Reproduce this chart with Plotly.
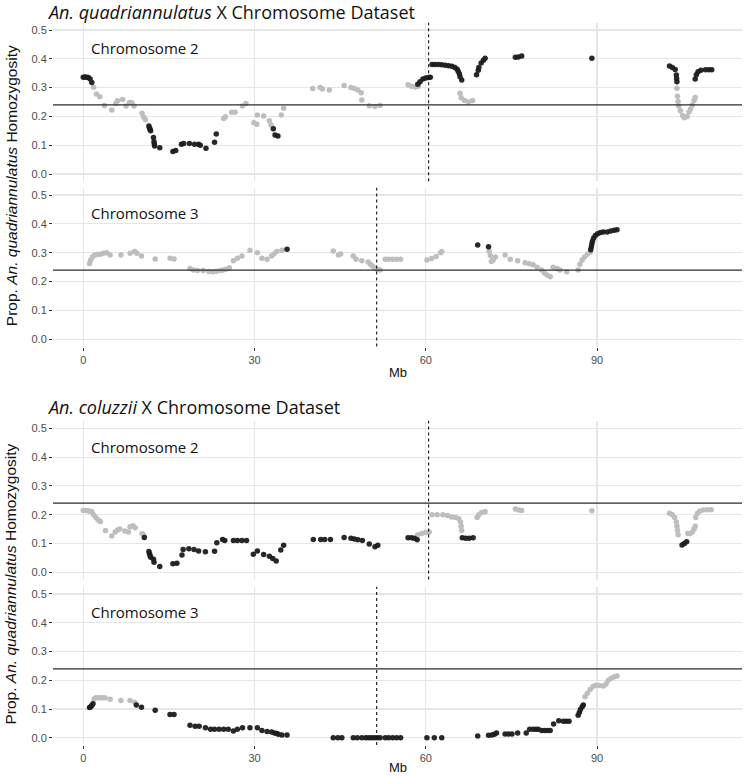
import plotly.graph_objects as go

W, H = 750, 776

# ---------------- data ----------------
THRESHOLD = 0.24
CENTROMERE_CHR2 = 60.5
CENTROMERE_CHR3 = 51.4

X_TICKS = [0, 30, 60, 90]
Y_TICKS = [0.0, 0.1, 0.2, 0.3, 0.4, 0.5]
Y_TICK_LABELS = ["0.0", "0.1", "0.2", "0.3", "0.4", "0.5"]

TITLE_QUAD = "<i>An. quadriannulatus</i> X Chromosome Dataset"
TITLE_COL = "<i>An. coluzzii</i> X Chromosome Dataset"
Y_TITLE = "Prop. <i>An. quadriannulatus</i> Homozygosity"
X_TITLE = "Mb"

# An. quadriannulatus dataset, chromosome 2
quad_chr2_black_mb = [0.0, 0.3, 0.6, 0.9, 1.2, 1.5,
                      11.5, 11.6, 11.7, 11.8, 12.3, 12.4, 12.45, 12.5, 13.4,
                      15.7, 16.2, 17.2, 17.6, 18.6, 19.5, 20.2, 20.5, 21.5, 23.0, 23.3,
                      33.3, 33.6, 34.1,
                      58.6, 59.0, 59.5, 60.0, 60.5, 60.8,
                      61.1, 61.6, 62.2, 62.8, 63.4, 64.0, 64.6, 65.1, 65.5, 65.7, 65.9, 66.0, 66.3,
                      68.9, 69.2, 69.3, 69.7, 70.1, 70.4,
                      75.7, 76.2, 76.8,
                      89.1,
                      102.7, 103.2, 103.7, 103.9, 103.95, 104.0,
                      107.2, 107.4, 107.7, 108.2, 109.0, 109.6, 110.1]
quad_chr2_black_val = [0.336, 0.337, 0.336, 0.335, 0.330, 0.318,
                       0.167, 0.160, 0.155, 0.150, 0.127, 0.112, 0.104, 0.097, 0.091,
                       0.078, 0.082, 0.103, 0.106, 0.106, 0.103, 0.103, 0.100, 0.089, 0.110, 0.139,
                       0.157, 0.135, 0.132,
                       0.312, 0.320, 0.330, 0.333, 0.335, 0.336,
                       0.380, 0.380, 0.380, 0.379, 0.378, 0.376, 0.374, 0.370, 0.364, 0.356, 0.347, 0.338, 0.326,
                       0.345, 0.360, 0.370, 0.385, 0.395, 0.402,
                       0.405, 0.406, 0.410,
                       0.402,
                       0.375, 0.370, 0.363, 0.344, 0.332, 0.320,
                       0.330, 0.345, 0.355, 0.360, 0.362, 0.362, 0.362]
quad_chr2_grey_mb = [1.8, 2.3, 2.9, 3.7, 5.0, 5.7, 6.0, 6.9, 7.5, 8.1, 8.5, 8.9, 10.3, 10.6, 10.9,
                     24.6, 24.9, 26.0, 26.6, 27.9, 28.5, 29.9, 30.4, 30.5, 31.6, 32.6, 32.9, 34.7, 35.1,
                     40.2, 41.5, 41.9, 43.1, 45.7, 46.9, 47.5, 48.1, 48.7, 48.8, 50.1, 51.1, 52.0,
                     56.9, 57.5, 58.2, 58.7,
                     66.0, 66.2, 66.8, 67.5, 68.2,
                     104.0, 104.1, 104.2, 104.3, 104.6, 105.0, 105.3, 105.8, 106.1, 106.4, 106.7, 107.0, 107.2]
quad_chr2_grey_val = [0.301, 0.278, 0.268, 0.238, 0.222, 0.245, 0.254, 0.259, 0.236, 0.248, 0.247, 0.236, 0.211, 0.197, 0.188,
                      0.193, 0.199, 0.214, 0.214, 0.236, 0.245, 0.178, 0.173, 0.205, 0.201, 0.185, 0.170, 0.205, 0.228,
                      0.297, 0.300, 0.295, 0.292, 0.307, 0.300, 0.297, 0.292, 0.282, 0.257, 0.237, 0.234, 0.238,
                      0.310, 0.305, 0.302, 0.305,
                      0.280, 0.265, 0.255, 0.250, 0.255,
                      0.298, 0.270, 0.252, 0.236, 0.220, 0.203, 0.195, 0.200, 0.215, 0.226, 0.240, 0.255, 0.266]

# An. quadriannulatus dataset, chromosome 3
quad_chr3_black_mb = [35.7, 69.1, 71.0,
                      88.9, 89.0, 89.1, 89.2, 89.4, 89.7, 90.1, 90.6, 91.1, 91.8, 92.4, 93.0, 93.5]
quad_chr3_black_val = [0.312, 0.327, 0.321,
                       0.310, 0.320, 0.330, 0.340, 0.350, 0.360, 0.366, 0.370, 0.372, 0.372, 0.375, 0.378, 0.380]
quad_chr3_grey_mb = [1.1, 1.3, 1.6, 2.0, 2.5, 3.0, 3.5, 4.1, 4.7, 6.6, 8.2, 9.0, 9.4, 10.2, 12.6, 15.2, 15.9,
                     18.7, 19.3, 20.0, 21.0, 22.0, 22.7, 23.3, 24.0, 24.5, 25.0, 25.6,
                     26.3, 27.0, 27.8, 29.2, 30.5, 31.3, 32.2, 33.0, 33.4, 33.9, 34.8,
                     43.8, 44.7, 45.1, 47.3, 47.8, 48.8, 49.9, 50.3, 50.7, 51.1, 51.5, 52.0,
                     52.9, 53.5, 54.2, 54.9, 55.6,
                     60.2, 61.0, 61.8, 62.6, 62.8,
                     71.1, 71.3, 71.5, 71.8, 72.2, 73.9, 74.8, 76.1, 77.4, 78.1, 78.8, 79.5,
                     80.3, 80.8, 81.3, 81.8, 82.3, 83.0, 83.5, 84.7,
                     86.7, 87.0, 87.4, 87.8, 88.3, 88.8]
quad_chr3_grey_val = [0.263, 0.275, 0.285, 0.292, 0.294, 0.295, 0.298, 0.300, 0.292, 0.292, 0.298, 0.304, 0.298, 0.289, 0.278, 0.281, 0.278,
                      0.245, 0.240, 0.238, 0.238, 0.235, 0.234, 0.236, 0.238, 0.240, 0.243, 0.248,
                      0.272, 0.281, 0.289, 0.309, 0.300, 0.281, 0.277, 0.289, 0.296, 0.304, 0.309,
                      0.306, 0.292, 0.296, 0.289, 0.277, 0.272, 0.268, 0.260, 0.253, 0.247, 0.243, 0.240,
                      0.277, 0.277, 0.277, 0.277, 0.277,
                      0.275, 0.280, 0.287, 0.300, 0.304,
                      0.305, 0.290, 0.270, 0.275, 0.285, 0.292, 0.277, 0.272, 0.265, 0.262, 0.258, 0.250,
                      0.240, 0.230, 0.222, 0.217, 0.250, 0.245, 0.240, 0.234,
                      0.240, 0.260, 0.275, 0.285, 0.295, 0.302]

# An. coluzzii dataset, chromosome 2
col_chr2_black_mb = [10.7, 11.5, 11.6, 11.7, 11.8, 12.3, 12.4, 13.4,
                     15.7, 16.4, 17.3, 17.5, 18.5, 19.4, 20.2, 21.4, 23.0, 23.4, 24.4, 24.8, 26.3, 27.0, 27.8, 28.6,
                     29.8, 30.5, 31.6, 32.6, 33.2, 33.8, 34.6, 35.1,
                     40.3, 41.6, 42.3, 43.3, 45.7, 46.9, 47.5, 48.1, 48.9, 50.1, 51.1, 51.6,
                     56.9, 57.5, 58.0, 58.5,
                     66.4, 67.0, 67.6, 68.3,
                     104.9, 105.3, 105.7]
col_chr2_black_val = [0.121, 0.072, 0.065, 0.058, 0.052, 0.045, 0.035, 0.020,
                      0.030, 0.031, 0.060, 0.079, 0.082, 0.079, 0.074, 0.071, 0.073, 0.103, 0.114, 0.110, 0.110, 0.110, 0.110, 0.110,
                      0.063, 0.074, 0.062, 0.056, 0.048, 0.039, 0.077, 0.094,
                      0.114, 0.114, 0.114, 0.114, 0.121, 0.118, 0.116, 0.113, 0.110, 0.098, 0.089, 0.094,
                      0.120, 0.120, 0.118, 0.113,
                      0.120, 0.118, 0.118, 0.120,
                      0.095, 0.100, 0.106]
col_chr2_grey_mb = [0.0, 0.4, 0.8, 1.2, 1.5, 1.8, 2.2, 2.6, 3.0, 3.9, 5.0, 5.6, 6.0, 6.4, 7.3, 7.9, 8.2, 8.7, 9.1, 10.3, 10.6,
                    58.6, 59.3, 60.0, 60.6,
                    61.1, 62.0, 63.0, 63.8, 64.5, 65.2, 65.8, 66.1, 66.2, 66.3,
                    69.0, 69.3, 69.8, 70.4,
                    75.7, 76.3, 76.8,
                    89.1,
                    102.7, 103.2, 103.6, 103.9, 104.0, 104.1, 104.2,
                    105.9, 106.3, 106.7, 107.0, 107.2,
                    107.3, 107.6, 108.0, 108.6, 109.3, 110.0]
col_chr2_grey_val = [0.215, 0.215, 0.214, 0.212, 0.210, 0.200, 0.190, 0.182, 0.176, 0.145, 0.126, 0.140, 0.147, 0.150, 0.143, 0.140, 0.158, 0.162, 0.155, 0.135, 0.129,
                     0.130, 0.135, 0.138, 0.140,
                     0.200, 0.200, 0.200, 0.197, 0.192, 0.190, 0.186, 0.175, 0.160, 0.145,
                     0.190, 0.200, 0.208, 0.210,
                     0.220, 0.216, 0.215,
                     0.214,
                     0.205, 0.200, 0.190, 0.175, 0.160, 0.145, 0.130,
                     0.135, 0.135, 0.140, 0.150, 0.160,
                     0.190, 0.205, 0.213, 0.216, 0.217, 0.217]

# An. coluzzii dataset, chromosome 3
col_chr3_black_mb = [1.1, 1.3, 1.5, 1.7, 9.3, 10.2, 12.6, 15.2, 15.9,
                     18.7, 19.6, 20.3, 21.4, 22.3, 23.0, 23.8, 24.6, 25.4, 26.3, 27.0, 27.9, 29.2, 30.5, 31.3, 32.2,
                     33.0, 33.5, 33.9, 34.2, 34.8, 35.7,
                     43.8, 44.6, 45.3, 47.3, 48.0, 48.8, 49.5, 50.0, 50.5, 51.0, 51.5, 52.0,
                     52.9, 53.5, 54.2, 54.9, 55.6,
                     60.2, 61.5, 62.8,
                     69.1, 71.0, 71.6, 72.0, 72.4, 73.9, 74.5, 75.1, 76.1, 77.6, 78.2, 78.8, 79.3, 79.7,
                     80.3, 80.8, 81.3, 81.8, 82.4, 83.3, 84.1, 84.6, 85.1,
                     86.7, 86.9, 87.1, 87.4, 87.6]
col_chr3_black_val = [0.105, 0.108, 0.112, 0.118, 0.114, 0.106, 0.096, 0.081, 0.081,
                      0.044, 0.040, 0.040, 0.035, 0.030, 0.030, 0.030, 0.030, 0.030, 0.024, 0.030, 0.035, 0.035, 0.035, 0.025, 0.022,
                      0.020, 0.017, 0.015, 0.012, 0.010, 0.010,
                      0.0, 0.0, 0.0, 0.0, 0.0, 0.0, 0.0, 0.0, 0.0, 0.0, 0.0, 0.0,
                      0.0, 0.0, 0.0, 0.0, 0.0,
                      0.0, 0.0, 0.0,
                      0.006, 0.009, 0.010, 0.012, 0.017, 0.013, 0.013, 0.013, 0.017, 0.017, 0.030, 0.030, 0.030, 0.030,
                      0.025, 0.025, 0.025, 0.025, 0.048, 0.059, 0.058, 0.058, 0.058,
                      0.078, 0.088, 0.098, 0.108, 0.114]
col_chr3_grey_mb = [1.9, 2.2, 2.6, 3.0, 3.4, 3.8, 4.7, 6.6, 8.2, 9.0,
                    87.9, 88.3, 88.8, 89.3, 89.8, 90.4, 91.1, 91.6, 92.0, 92.5, 93.0, 93.5]
col_chr3_grey_val = [0.135, 0.139, 0.139, 0.139, 0.139, 0.139, 0.134, 0.130, 0.130, 0.124,
                     0.143, 0.155, 0.168, 0.178, 0.183, 0.182, 0.180, 0.187, 0.200, 0.207, 0.212, 0.215]

# ---------------- figure ----------------
GREY = "#bebebe"
BLACK = "#1c1c1c"
GRID = "#e6e6e6"
TICK_TXT = "#4d4d4d"

def px_y(p):
    return 1 - p / H

# panel vertical pixel extents (top, bottom)
panels = [
    dict(top=22.8, bot=181.2, grey=(quad_chr2_grey_mb, quad_chr2_grey_val),
         black=(quad_chr2_black_mb, quad_chr2_black_val), label="Chromosome 2",
         cen=CENTROMERE_CHR2, xlabels=False),
    dict(top=187.8, bot=346.5, grey=(quad_chr3_grey_mb, quad_chr3_grey_val),
         black=(quad_chr3_black_mb, quad_chr3_black_val), label="Chromosome 3",
         cen=CENTROMERE_CHR3, xlabels=True),
    dict(top=421.1, bot=579.5, grey=(col_chr2_grey_mb, col_chr2_grey_val),
         black=(col_chr2_black_mb, col_chr2_black_val), label="Chromosome 2",
         cen=CENTROMERE_CHR2, xlabels=False),
    dict(top=586.8, bot=745.0, grey=(col_chr3_grey_mb, col_chr3_grey_val),
         black=(col_chr3_black_mb, col_chr3_black_val), label="Chromosome 3",
         cen=CENTROMERE_CHR3, xlabels=True),
]

XDOM = [53 / W, 742 / W]
XRANGE = [-5.3, 115.4]
YRANGE = [-0.025, 0.525]

fig = go.Figure()
layout = dict(
    width=W, height=H,
    margin=dict(l=0, r=0, t=0, b=0),
    paper_bgcolor="white", plot_bgcolor="white",
    showlegend=False, hovermode=False,
    font=dict(family="Liberation Sans, Arial, sans-serif", color=TICK_TXT, size=11),
)
shapes = []
annotations = []

for i, p in enumerate(panels, start=1):
    xa = "x" if i == 1 else f"x{i}"
    ya = "y" if i == 1 else f"y{i}"
    xkey = "xaxis" if i == 1 else f"xaxis{i}"
    ykey = "yaxis" if i == 1 else f"yaxis{i}"
    layout[xkey] = dict(
        domain=XDOM, range=XRANGE, anchor=ya,
        tickvals=X_TICKS, ticktext=[str(v) for v in X_TICKS],
        showticklabels=p["xlabels"], ticks="outside" if p["xlabels"] else "",
        ticklen=3, tickwidth=1, tickcolor="#333333",
        tickfont=dict(size=11, color=TICK_TXT),
        showgrid=True, gridcolor=GRID, gridwidth=1.1,
        zeroline=False, showline=False, automargin=False,
    )
    layout[ykey] = dict(
        domain=[px_y(p["bot"]), px_y(p["top"])], range=YRANGE, anchor=xa,
        tickvals=Y_TICKS, ticktext=Y_TICK_LABELS,
        ticks="outside", ticklen=3, tickwidth=1, tickcolor="#333333",
        tickfont=dict(size=11, color=TICK_TXT),
        showgrid=True, gridcolor=GRID, gridwidth=1.1,
        zeroline=False, showline=False, automargin=False,
    )
    gx, gy = p["grey"]
    bx, by = p["black"]
    fig.add_trace(go.Scatter(x=gx, y=gy, mode="markers", xaxis=xa, yaxis=ya,
                             marker=dict(color=GREY, size=5.5, line=dict(width=0)),
                             cliponaxis=False))
    fig.add_trace(go.Scatter(x=bx, y=by, mode="markers", xaxis=xa, yaxis=ya,
                             marker=dict(color=BLACK, size=5.5, opacity=0.95, line=dict(width=0)),
                             cliponaxis=False))
    # threshold line
    shapes.append(dict(type="line", xref=f"{xa} domain", x0=0, x1=1,
                       yref=ya, y0=THRESHOLD, y1=THRESHOLD,
                       line=dict(color="#2b2b2b", width=1.3), layer="above"))
    # centromere dotted line
    shapes.append(dict(type="line", xref=xa, x0=p["cen"], x1=p["cen"],
                       yref=f"{ya} domain", y0=0, y1=1,
                       line=dict(color="#111111", width=1.1, dash="dot"), layer="above"))
    annotations.append(dict(x=1.0, y=0.436, xref=xa, yref=ya, text=p["label"],
                            showarrow=False, xanchor="left", yanchor="middle",
                            font=dict(family="Open Sans, sans-serif", size=15, color="#111111")))

# titles
for txt, ypix in [(TITLE_QUAD, 12.5), (TITLE_COL, 407)]:
    annotations.append(dict(x=45 / W, y=px_y(ypix), xref="paper", yref="paper", text=txt,
                            showarrow=False, xanchor="left", yanchor="middle",
                            font=dict(family="Open Sans, sans-serif", size=18, color="#111111")))
# y titles
for ypix in [(22.8 + 346.5) / 2 + 1.5, (421.1 + 745.0) / 2 + 1.5]:
    annotations.append(dict(x=11 / W, y=px_y(ypix), xref="paper", yref="paper", text=Y_TITLE,
                            showarrow=False, textangle=-90, xanchor="center", yanchor="middle",
                            font=dict(family="Liberation Sans, Arial, sans-serif", size=15.5, color="#111111")))
# x titles
for ypix in [372.5, 767]:
    annotations.append(dict(x=397.5 / W, y=px_y(ypix), xref="paper", yref="paper", text=X_TITLE,
                            showarrow=False, xanchor="center", yanchor="middle",
                            font=dict(family="Liberation Sans, Arial, sans-serif", size=13, color="#111111")))

layout["shapes"] = shapes
layout["annotations"] = annotations
fig.update_layout(**layout)
fig.write_html("out.html", config={"displayModeBar": False, "staticPlot": True},
               post_script="document.body.style.margin='0';")
